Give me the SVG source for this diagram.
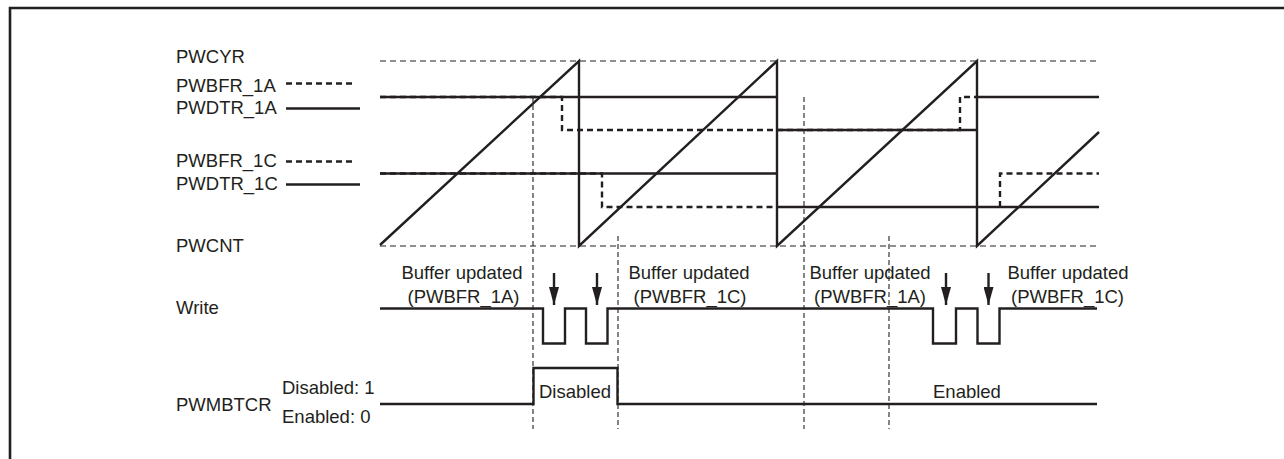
<svg xmlns="http://www.w3.org/2000/svg" width="1284" height="459" viewBox="0 0 1284 459">
<style>
text{font-family:"Liberation Sans",Arial,sans-serif;font-size:18.5px;fill:#231f20}
.mid{text-anchor:middle}
.thick{fill:none;stroke:#231f20;stroke-width:2.4}
.tdash{fill:none;stroke:#231f20;stroke-width:2.4;stroke-dasharray:6,4}
.thin{fill:none;stroke:#231f20;stroke-width:1.1;stroke-dasharray:6,4}
.vdash{fill:none;stroke:#231f20;stroke-width:1.1;stroke-dasharray:5,3}
</style>
<defs>
<marker id="arr" markerUnits="userSpaceOnUse" markerWidth="18" markerHeight="10" viewBox="0 0 18 10" refX="18" refY="5" orient="auto">
<path d="M0,0 L18,5 L0,10 z" fill="#231f20"/>
</marker>
</defs>
<rect width="1284" height="459" fill="#fff"/>
<path class="thick" style="stroke-width:2.6" d="M10,480 V8 H1290"/>

<g id="labels">
<text x="176" y="63">PWCYR</text>
<text x="176" y="92">PWBFR_1A</text>
<text x="176" y="114">PWDTR_1A</text>
<text x="176" y="167">PWBFR_1C</text>
<text x="176" y="190">PWDTR_1C</text>
<text x="176" y="252">PWCNT</text>
<text x="176" y="314">Write</text>
<text x="176" y="411">PWMBTCR</text>
<text x="282" y="394">Disabled: 1</text>
<text x="282" y="423">Enabled: 0</text>
</g>

<g id="legend">
<line class="tdash" x1="286" y1="83.5" x2="356" y2="83.5"/>
<line class="thick" x1="286" y1="108.5" x2="360" y2="108.5"/>
<line class="tdash" x1="286" y1="161.5" x2="356" y2="161.5"/>
<line class="thick" x1="286" y1="184.5" x2="360" y2="184.5"/>
</g>

<g id="guides">
<line class="thin" x1="380" y1="61" x2="1098" y2="61"/>
<line class="thin" x1="380" y1="246" x2="1098" y2="246"/>
<line class="vdash" x1="533" y1="97" x2="533" y2="429"/>
<line class="vdash" x1="618" y1="236" x2="618" y2="429"/>
<line class="vdash" x1="804" y1="97" x2="804" y2="429"/>
<line class="vdash" x1="889" y1="236" x2="889" y2="429"/>
</g>

<g id="buffers">
<path class="tdash" d="M380,97 H562 V130 H960 V97 H977"/>
<path class="tdash" d="M380,173.5 H602 V207 H777"/>
<path class="tdash" d="M1000,207 V173.5 H1099"/>
</g>

<g id="duty">
<path class="thick" d="M380,97 H777"/>
<path class="thick" d="M777,130 H977"/>
<path class="thick" d="M977,97 H1099"/>
<path class="thick" d="M380,173.5 H777"/>
<path class="thick" d="M777,207 H1099"/>
</g>

<g id="counter">
<path class="thick" d="M380,245 L579,61 V246 L777,61 V246 L977,61 V246 L1099,132"/>
</g>

<g id="write">
<path class="thick" d="M380,308.5 H543 V343.5 H565 V308.5 H586 V343.5 H607.5 V308.5 H933 V343.5 H956 V308.5 H977.5 V343.5 H999.5 V308.5 H1097"/>
<line class="thick" x1="554" y1="273" x2="554" y2="305" marker-end="url(#arr)"/>
<line class="thick" x1="597" y1="273" x2="597" y2="305" marker-end="url(#arr)"/>
<line class="thick" x1="946" y1="273" x2="946" y2="305" marker-end="url(#arr)"/>
<line class="thick" x1="988.5" y1="273" x2="988.5" y2="305" marker-end="url(#arr)"/>
<text class="mid" x="462" y="279">Buffer updated</text>
<text class="mid" x="463.5" y="303">(PWBFR_1A)</text>
<text class="mid" x="689" y="279">Buffer updated</text>
<text class="mid" x="690" y="303">(PWBFR_1C)</text>
<text class="mid" x="870" y="279">Buffer updated</text>
<text class="mid" x="870" y="303">(PWBFR_1A)</text>
<text class="mid" x="1068" y="279">Buffer updated</text>
<text class="mid" x="1067.5" y="303">(PWBFR_1C)</text>
</g>

<g id="pwmbtcr">
<path class="thick" d="M380,404 H533.5 V368 H617.5 V404 H1097"/>
<text x="539" y="398">Disabled</text>
<text x="933" y="398">Enabled</text>
</g>
</svg>
